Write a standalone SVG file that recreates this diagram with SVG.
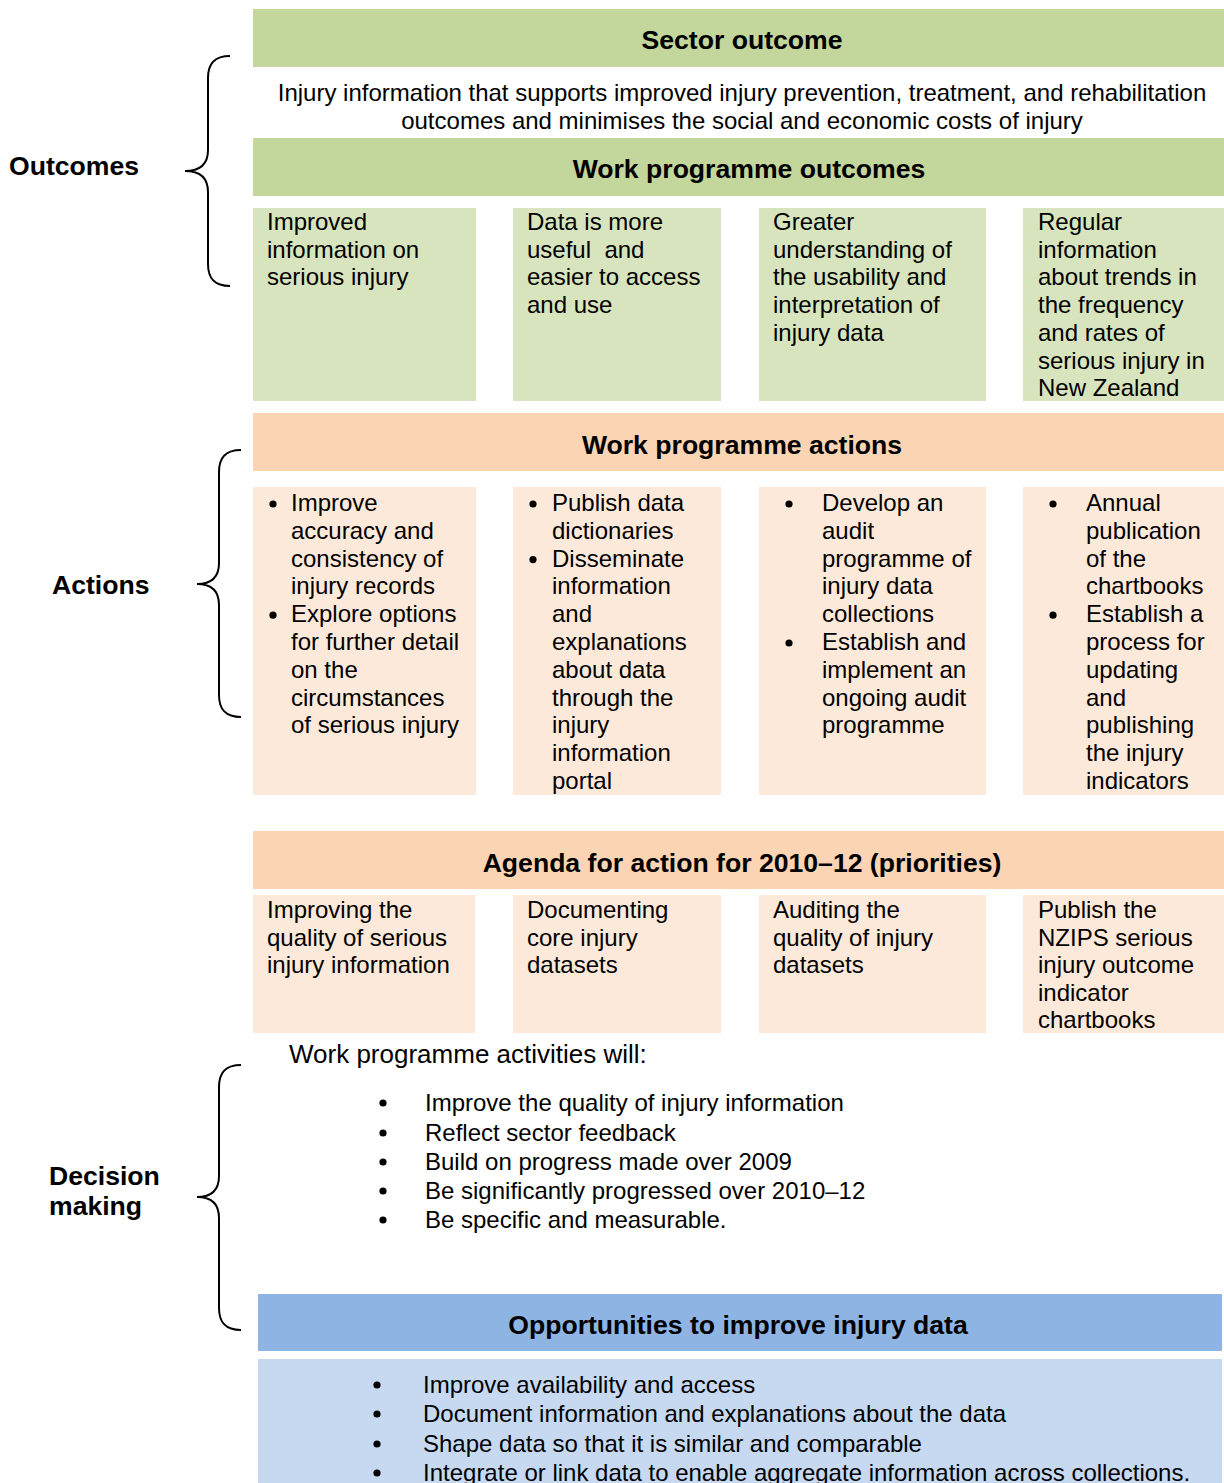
<svg xmlns="http://www.w3.org/2000/svg" width="1224" height="1483" viewBox="0 0 1224 1483">
<style>
text{font-family:"Liberation Sans",Arial,sans-serif;fill:#000}
.h{font-size:26.6px;font-weight:bold;text-anchor:middle}
.t{font-size:24px}
.c{font-size:24px;text-anchor:middle}
.lbl{font-size:26.6px;font-weight:bold}
.gH{fill:#c3d69b}.gB{fill:#d7e4bd}.pH{fill:#fbd4b4}.pB{fill:#fde9d9}.bH{fill:#8eb4e3}.bB{fill:#c6d9f1}
.brace{fill:none;stroke:#000;stroke-width:2}
</style>
<rect width="1224" height="1483" fill="#fff"/>
<g id="labels">
<text class="lbl" x="9" y="175">Outcomes</text>
<text class="lbl" x="52" y="594">Actions</text>
<text class="lbl" x="49" y="1185">Decision<tspan x="49" y="1215">making</tspan></text>
</g>
<g id="connectors">
<path class="brace" d="M230,56 C214,56 208,64 208,78 L208,150 C208,164 200,171 185,171 C200,171 208,178 208,192 L208,264 C208,278 214,286 230,286"/>
<path class="brace" d="M241,450 C225,450 219,458 219,472 L219,563 C219,577 211,584 197,584 C211,584 219,591 219,605 L219,695 C219,709 225,717 241,717"/>
<path class="brace" d="M241,1065 C225,1065 219,1073 219,1087 L219,1176 C219,1190 211,1197 197,1197 C211,1197 219,1204 219,1218 L219,1308 C219,1322 225,1330 241,1330"/>
</g>
<g id="sector-outcome">
<rect class="gH" x="253" y="9" width="971" height="58"/>
<text class="h" x="742" y="49">Sector outcome</text>
<text class="c" x="742" y="101">Injury information that supports improved injury prevention, treatment, and rehabilitation</text>
<text class="c" x="742" y="129">outcomes and minimises the social and economic costs of injury</text>
</g>
<g id="work-programme-outcomes">
<rect class="gH" x="253" y="138" width="971" height="58"/>
<text class="h" x="749" y="178">Work programme outcomes</text>
</g>
<g id="outcome-1">
<rect class="gB" x="253" y="208" width="223" height="193"/>
<text class="t" x="267" y="230">Improved<tspan x="267" dy="27.7">information on</tspan><tspan x="267" dy="27.7">serious injury</tspan></text>
</g>
<g id="outcome-2">
<rect class="gB" x="513" y="208" width="208" height="193"/>
<text class="t" x="527" y="230">Data is more<tspan x="527" dy="27.7" xml:space="preserve">useful  and</tspan><tspan x="527" dy="27.7">easier to access</tspan><tspan x="527" dy="27.7">and use</tspan></text>
</g>
<g id="outcome-3">
<rect class="gB" x="759" y="208" width="227" height="193"/>
<text class="t" x="773" y="230">Greater<tspan x="773" dy="27.7">understanding of</tspan><tspan x="773" dy="27.7">the usability and</tspan><tspan x="773" dy="27.7">interpretation of</tspan><tspan x="773" dy="27.7">injury data</tspan></text>
</g>
<g id="outcome-4">
<rect class="gB" x="1023" y="208" width="201" height="193"/>
<text class="t" x="1038" y="230">Regular<tspan x="1038" dy="27.7">information</tspan><tspan x="1038" dy="27.7">about trends in</tspan><tspan x="1038" dy="27.7">the frequency</tspan><tspan x="1038" dy="27.7">and rates of</tspan><tspan x="1038" dy="27.7">serious injury in</tspan><tspan x="1038" dy="27.7">New Zealand</tspan></text>
</g>
<g id="work-programme-actions">
<rect class="pH" x="253" y="413" width="971" height="58"/>
<text class="h" x="742" y="454">Work programme actions</text>
</g>
<g id="action-1">
<rect class="pB" x="253" y="487" width="223" height="308"/>
<circle cx="273" cy="504" r="3.6"/>
<circle cx="273" cy="615.2" r="3.6"/>
<text class="t" x="291" y="511">Improve<tspan x="291" dy="27.8">accuracy and</tspan><tspan x="291" dy="27.8">consistency of</tspan><tspan x="291" dy="27.8">injury records</tspan><tspan x="291" dy="27.8">Explore options</tspan><tspan x="291" dy="27.8">for further detail</tspan><tspan x="291" dy="27.8">on the</tspan><tspan x="291" dy="27.8">circumstances</tspan><tspan x="291" dy="27.8">of serious injury</tspan></text>
</g>
<g id="action-2">
<rect class="pB" x="513" y="487" width="208" height="308"/>
<circle cx="533" cy="504" r="3.6"/>
<circle cx="533" cy="559.6" r="3.6"/>
<text class="t" x="552" y="511">Publish data<tspan x="552" dy="27.8">dictionaries</tspan><tspan x="552" dy="27.8">Disseminate</tspan><tspan x="552" dy="27.8">information</tspan><tspan x="552" dy="27.8">and</tspan><tspan x="552" dy="27.8">explanations</tspan><tspan x="552" dy="27.8">about data</tspan><tspan x="552" dy="27.8">through the</tspan><tspan x="552" dy="27.8">injury</tspan><tspan x="552" dy="27.8">information</tspan><tspan x="552" dy="27.8">portal</tspan></text>
</g>
<g id="action-3">
<rect class="pB" x="759" y="487" width="227" height="308"/>
<circle cx="789" cy="504" r="3.6"/>
<circle cx="789" cy="643" r="3.6"/>
<text class="t" x="822" y="511">Develop an<tspan x="822" dy="27.8">audit</tspan><tspan x="822" dy="27.8">programme of</tspan><tspan x="822" dy="27.8">injury data</tspan><tspan x="822" dy="27.8">collections</tspan><tspan x="822" dy="27.8">Establish and</tspan><tspan x="822" dy="27.8">implement an</tspan><tspan x="822" dy="27.8">ongoing audit</tspan><tspan x="822" dy="27.8">programme</tspan></text>
</g>
<g id="action-4">
<rect class="pB" x="1023" y="487" width="201" height="308"/>
<circle cx="1053" cy="504" r="3.6"/>
<circle cx="1053" cy="615.2" r="3.6"/>
<text class="t" x="1086" y="511">Annual<tspan x="1086" dy="27.8">publication</tspan><tspan x="1086" dy="27.8">of the</tspan><tspan x="1086" dy="27.8">chartbooks</tspan><tspan x="1086" dy="27.8">Establish a</tspan><tspan x="1086" dy="27.8">process for</tspan><tspan x="1086" dy="27.8">updating</tspan><tspan x="1086" dy="27.8">and</tspan><tspan x="1086" dy="27.8">publishing</tspan><tspan x="1086" dy="27.8">the injury</tspan><tspan x="1086" dy="27.8">indicators</tspan></text>
</g>
<g id="agenda">
<rect class="pH" x="253" y="831" width="971" height="58"/>
<text class="h" x="742" y="872">Agenda for action for 2010–12 (priorities)</text>
</g>
<g id="agenda-1">
<rect class="pB" x="253" y="895" width="222" height="138"/>
<text class="t" x="267" y="918">Improving the<tspan x="267" dy="27.6">quality of serious</tspan><tspan x="267" dy="27.6">injury information</tspan></text>
</g>
<g id="agenda-2">
<rect class="pB" x="513" y="895" width="208" height="138"/>
<text class="t" x="527" y="918">Documenting<tspan x="527" dy="27.6">core injury</tspan><tspan x="527" dy="27.6">datasets</tspan></text>
</g>
<g id="agenda-3">
<rect class="pB" x="759" y="895" width="227" height="138"/>
<text class="t" x="773" y="918">Auditing the<tspan x="773" dy="27.6">quality of injury</tspan><tspan x="773" dy="27.6">datasets</tspan></text>
</g>
<g id="agenda-4">
<rect class="pB" x="1023" y="895" width="201" height="138"/>
<text class="t" x="1038" y="918">Publish the<tspan x="1038" dy="27.6">NZIPS serious</tspan><tspan x="1038" dy="27.6">injury outcome</tspan><tspan x="1038" dy="27.6">indicator</tspan><tspan x="1038" dy="27.6">chartbooks</tspan></text>
</g>
<g id="activities">
<text x="289" y="1063" style="font-size:26px">Work programme activities will:</text>
<circle cx="383" cy="1103" r="3.6"/>
<circle cx="383" cy="1133" r="3.6"/>
<circle cx="383" cy="1162" r="3.6"/>
<circle cx="383" cy="1191" r="3.6"/>
<circle cx="383" cy="1220" r="3.6"/>
<text class="t" x="425" y="1111">Improve the quality of injury information</text>
<text class="t" x="425" y="1141">Reflect sector feedback</text>
<text class="t" x="425" y="1170">Build on progress made over 2009</text>
<text class="t" x="425" y="1199">Be significantly progressed over 2010–12</text>
<text class="t" x="425" y="1228">Be specific and measurable.</text>
</g>
<g id="opportunities">
<rect class="bH" x="258" y="1294" width="964" height="57"/>
<text class="h" x="738" y="1334">Opportunities to improve injury data</text>
</g>
<g id="opportunities-list">
<rect class="bB" x="258" y="1359" width="964" height="124"/>
<circle cx="377" cy="1385" r="3.6"/>
<circle cx="377" cy="1414" r="3.6"/>
<circle cx="377" cy="1444" r="3.6"/>
<circle cx="377" cy="1473" r="3.6"/>
<text class="t" x="423" y="1393">Improve availability and access</text>
<text class="t" x="423" y="1422">Document information and explanations about the data</text>
<text class="t" x="423" y="1452">Shape data so that it is similar and comparable</text>
<text class="t" x="423" y="1481">Integrate or link data to enable aggregate information across collections.</text>
</g>
</svg>
